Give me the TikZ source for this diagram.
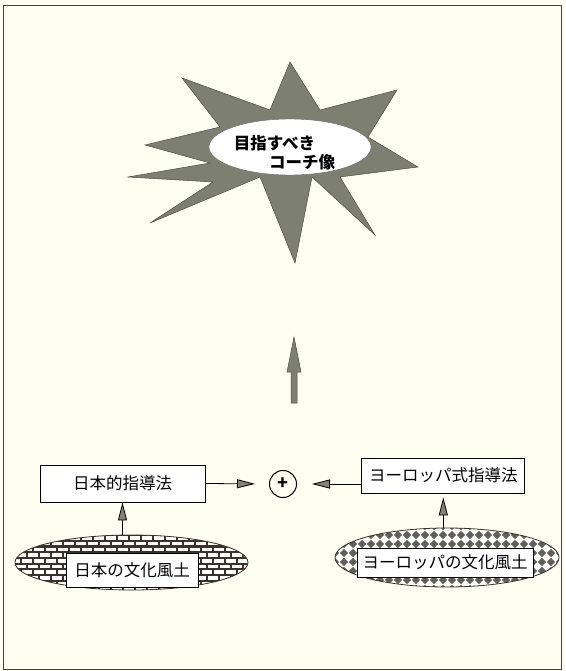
\documentclass[tikz,border=0pt]{standalone}
\usepackage{fontspec}
\newfontfamily\jp{Noto Sans CJK JP}
\usetikzlibrary{arrows.meta,shapes.geometric}
\definecolor{paper}{RGB}{253,253,240}
\definecolor{stargray}{RGB}{125,127,112}
\definecolor{headgray}{RGB}{130,130,122}
\definecolor{brickline}{RGB}{60,50,42}
\definecolor{diagray}{RGB}{95,95,88}
\begin{document}
\begin{tikzpicture}[x=1pt,y=-1pt,
  jpfont/.style={font=\jp\fontsize{16.5}{18}\selectfont},
  box/.style={draw, line width=0.8pt, fill=white, inner sep=0pt, jpfont},
  soilbox/.style={draw, line width=0.6pt, fill=white, inner sep=0pt, jpfont},
  soil/.style={ellipse, draw=brickline, line width=0.8pt, inner sep=0pt},
  link/.style={line width=0.8pt, draw=black, -{Triangle[length=18pt,width=9pt,fill=headgray]}},
  shapefill/.style={fill=stargray, draw=black!70, line width=0.5pt},
 ]
\fill[paper] (0,0) rectangle (565,671);
\useasboundingbox (0,0) rectangle (565,671);
\draw[line width=1pt, black!75] (3,6) rectangle (561,669);

% star
\filldraw[shapefill]
 (290,62) -- (320,110) -- (397,90) -- (368,137) -- (418,167) -- (340,177) -- (375,235)
 -- (312,177) -- (295,263) -- (260,177) -- (150,223) -- (213,182) -- (128,177)
 -- (210,163) -- (145,145) -- (220,127) -- (182,78) -- (270,110) -- cycle;
\node[ellipse, fill=white, draw=black!60, line width=0.4pt, minimum width=162, minimum height=56, inner sep=0pt] (goal) at (290,147) {};
\node[jpfont, font=\jp\bfseries\fontsize{16.5}{18}\selectfont] (g1) at (274.5,143) {目指すべき};
\node[jpfont, font=\jp\bfseries\fontsize{16.5}{18}\selectfont] (g2) at (302,162) {コーチ像};

% big arrow
\filldraw[shapefill] (294,337) -- (301,372) -- (297,372) -- (297,403) -- (291,403) -- (291,372) -- (287,372) -- cycle;

% methods
\node[box, minimum width=165, minimum height=37] (lm) at (122.5,483.5) {日本的指導法};
\node[box, minimum width=163, minimum height=35] (rm) at (443.3,475.5) {ヨーロッパ式指導法};
\node[circle, draw, line width=1pt, minimum size=27, inner sep=0pt, font=\jp\bfseries\fontsize{18}{18}\selectfont] (plus) at (283,484) {+};

% left soil (bricks)
\begin{scope}
 \clip (131.5,562.5) ellipse [x radius=116.5, y radius=27.5];
 \fill[brickline] (14,534) rectangle (249,591);
 \foreach \ii in {0,...,10} {
   \foreach \jj in {0,...,20} {
     \fill[white] ({10+\jj*12 + mod(\ii,2)*6}, {535+\ii*5.7+1.2}) rectangle +(9.8,3.5);
   }
 }
\end{scope}
\node[soil, minimum width=233, minimum height=55] (ls) at (131.5,562.5) {};

% right soil (diamonds)
\begin{scope}
 \clip (447,557.5) ellipse [x radius=112, y radius=29.5];
 \fill[white] (334,527) rectangle (560,588);
 \foreach \ii in {0,...,26} {
   \foreach \jj in {0,...,7} {
     \fill[diagray] ({335+\ii*9},{526+\jj*9}) +(0,-4.2) -- +(4.2,0) -- +(0,4.2) -- +(-4.2,0) -- cycle;
   }
 }
\end{scope}
\node[soil, minimum width=224, minimum height=59] (rs) at (447,557.5) {};

\node[soilbox, minimum width=132, minimum height=34] (lt) at (132,570) {日本の文化風土};
\node[soilbox, minimum width=176, minimum height=29] (rt) at (445,562.5) {ヨーロッパの文化風土};

% connectors
\draw[link, shorten >=14pt] (lm.east) -- (plus.west);
\draw[link, shorten >=15pt] (rm.west |- plus) -- (plus.east);
\draw[link] (lm.south |- ls.north) -- (lm.south);
\draw[link, shorten >=4pt] (rm.south |- rs.north) -- (rm.south);
\end{tikzpicture}
\end{document}
